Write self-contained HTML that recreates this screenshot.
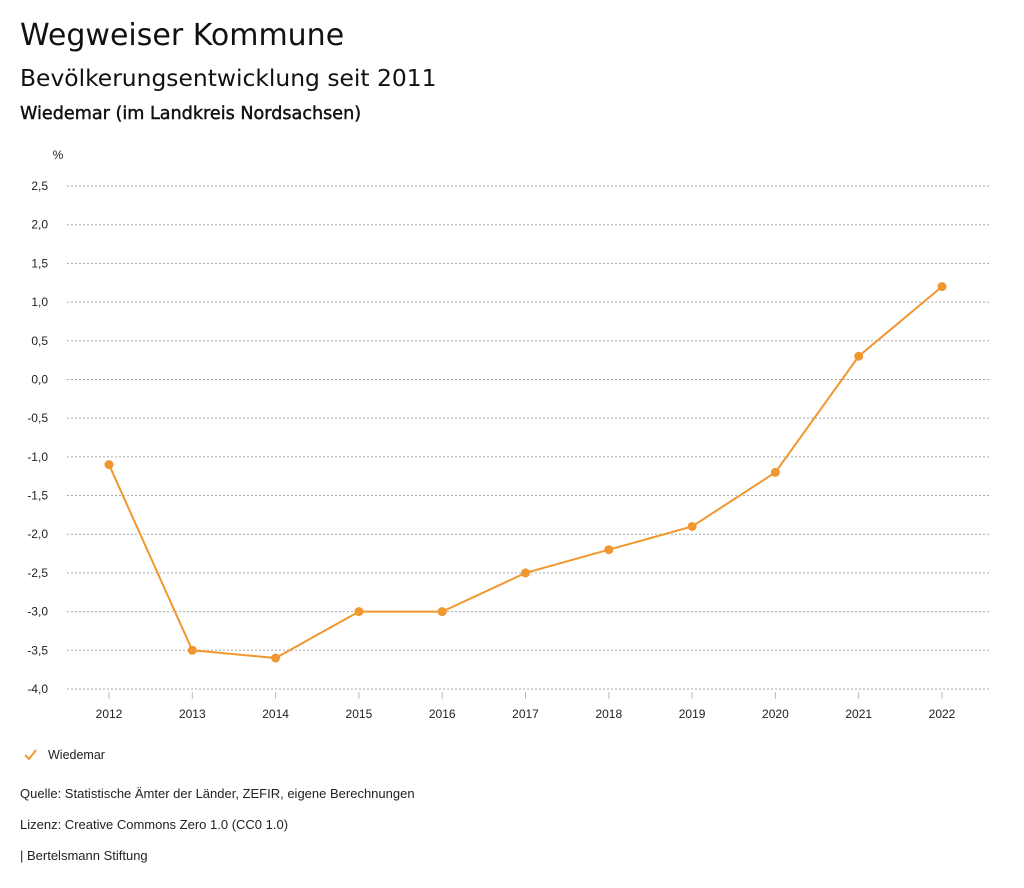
<!DOCTYPE html>
<html><head><meta charset="utf-8"><style>
body{margin:0;background:#fff;width:1024px;height:888px;overflow:hidden;font-family:"Liberation Sans",sans-serif;}
.t{position:absolute;left:20px;font-family:"DejaVu Sans",sans-serif;color:#111;white-space:nowrap;}
.s{position:absolute;left:20px;font-size:13px;color:#222;white-space:nowrap;}
</style></head><body>
<div class="t" style="top:18px;font-size:30px;">Wegweiser Kommune</div>
<div class="t" style="top:64px;font-size:23.4px;">Bevölkerungsentwicklung seit 2011</div>
<div class="t" style="top:104px;font-size:17.6px;-webkit-text-stroke:0.45px #111;">Wiedemar (im Landkreis Nordsachsen)</div>
<svg id="chart" width="1024" height="888" style="position:absolute;left:0;top:0" font-family="Liberation Sans, sans-serif"></svg>
<div class="s" style="top:786px;">Quelle: Statistische Ämter der Länder, ZEFIR, eigene Berechnungen</div>
<div class="s" style="top:817px;">Lizenz: Creative Commons Zero 1.0 (CC0 1.0)</div>
<div class="s" style="top:848px;">| Bertelsmann Stiftung</div>
<script>
const years=[2012,2013,2014,2015,2016,2017,2018,2019,2020,2021,2022];
const values=[-1.1,-3.5,-3.6,-3.0,-3.0,-2.5,-2.2,-1.9,-1.2,0.3,1.2];
const yTicks=[2.5,2.0,1.5,1.0,0.5,0.0,-0.5,-1.0,-1.5,-2.0,-2.5,-3.0,-3.5,-4.0];
const NS='http://www.w3.org/2000/svg';
const svg=document.getElementById('chart');
const yMin=-4,yMax=2.5,yTop=186,yBot=689;
const y=v=>yBot-(v-yMin)/(yMax-yMin)*(yBot-yTop);
const x=i=>109+i*(942-109)/(years.length-1);
function mk(t,a){const e=document.createElementNS(NS,t);for(const k in a)e.setAttribute(k,a[k]);svg.appendChild(e);return e;}
const u=mk('text',{x:58,y:159,'font-size':12,fill:'#222','text-anchor':'middle'});u.textContent='%';


yTicks.forEach(v=>{
 const g=mk('line',{x1:67,x2:990,y1:y(v),y2:y(v),stroke:'#aaa','stroke-width':1,'stroke-dasharray':'2,2'});
 
 
 const t=mk('text',{x:48,y:y(v)+4,'font-size':12,fill:'#222','text-anchor':'end'});
 t.textContent=v.toFixed(1).replace('.',',');
 
 
});
years.forEach((yr,i)=>{
 const tk=mk('line',{x1:x(i),x2:x(i),y1:692,y2:699,stroke:'#bbb'});
 
 
 const t=mk('text',{x:x(i),y:718,'font-size':12,fill:'#222','text-anchor':'middle'});
 t.textContent=yr;
 
 
});
const p=mk('polyline',{points:values.map((v,i)=>x(i)+','+y(v)).join(' '),fill:'none',stroke:'#f0982f','stroke-width':2});


values.forEach((v,i)=>{
 const c=mk('circle',{cx:x(i),cy:y(v),r:4.5,fill:'#f0982f'});
 
 
});
const chk=mk('polyline',{points:'25,755 29,759 36,750',fill:'none',stroke:'#f0982f','stroke-width':2});


const lt=mk('text',{x:48,y:759,'font-size':12.5,fill:'#222'});lt.textContent='Wiedemar';


</script>
</body></html>
